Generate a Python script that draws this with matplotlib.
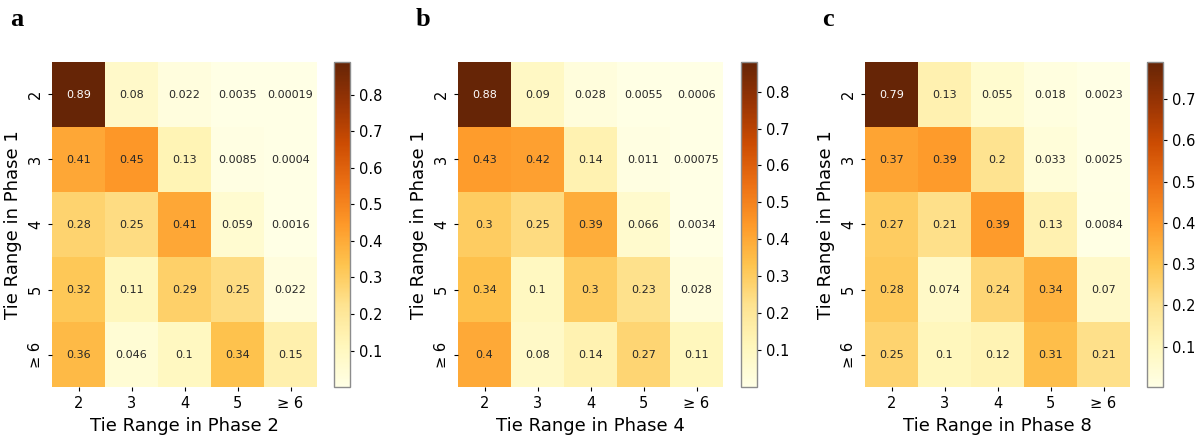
import numpy as np
import matplotlib
matplotlib.use("Agg")
import matplotlib.pyplot as plt
import seaborn as sns

labels = ["2", "3", "4", "5", "≥ 6"]

# transition fractions, rows = range in phase 1, cols = range in later phase
phase2 = [
    [0.89, 0.08, 0.022, 0.0035, 0.00019],
    [0.41, 0.45, 0.13, 0.0085, 0.0004],
    [0.28, 0.25, 0.41, 0.059, 0.0016],
    [0.32, 0.11, 0.29, 0.25, 0.022],
    [0.36, 0.046, 0.1, 0.34, 0.15],
]
phase4 = [
    [0.88, 0.09, 0.028, 0.0055, 0.0006],
    [0.43, 0.42, 0.14, 0.011, 0.00075],
    [0.3, 0.25, 0.39, 0.066, 0.0034],
    [0.34, 0.1, 0.3, 0.23, 0.028],
    [0.4, 0.08, 0.14, 0.27, 0.11],
]
phase8 = [
    [0.79, 0.13, 0.055, 0.018, 0.0023],
    [0.37, 0.39, 0.2, 0.033, 0.0025],
    [0.27, 0.21, 0.39, 0.13, 0.0084],
    [0.28, 0.074, 0.24, 0.34, 0.07],
    [0.25, 0.1, 0.12, 0.31, 0.21],
]

panels = [("a", "Tie Range in Phase 2", phase2),
          ("b", "Tie Range in Phase 4", phase4),
          ("c", "Tie Range in Phase 8", phase8)]

W, H = 1202, 436
fig = plt.figure(figsize=(W / 100, H / 100), dpi=100)

# pixel boxes: heatmap left, colorbar left, letter x
boxes = [(52, 334, 10), (458, 741, 416), (865, 1147, 822)]
top, bottom = 62, 387

for (letter, xlabel, data), (hx, cx, lx) in zip(panels, boxes):
    ax = fig.add_axes([hx / W, (H - bottom) / H, 265 / W, (bottom - top) / H])
    cax = fig.add_axes([cx / W, (H - bottom) / H, 16 / W, (bottom - top) / H])
    sns.heatmap(np.array(data), ax=ax, cbar_ax=cax, cmap="YlOrBr",
                annot=True, fmt=".2g", annot_kws={"size": 8},
                xticklabels=labels, yticklabels=labels)
    # keep the raw numbers as printed
    for t, v in zip(ax.texts, np.array(data).ravel()):
        t.set_text(f"{v:g}")
    ax.set_xlabel(xlabel, fontsize=13)
    ax.set_ylabel("Tie Range in Phase 1", fontsize=13)
    ax.tick_params(labelsize=10.5, length=3)
    plt.setp(ax.get_yticklabels(), rotation=90, va="center")
    plt.setp(ax.get_xticklabels(), rotation=0)
    cax.tick_params(labelsize=10.5, length=3)
    cbar = ax.collections[0].colorbar
    cbar.outline.set_linewidth(1)
    cbar.outline.set_edgecolor("0.55")
    fig.text(lx / W, 1 - 8 / H, letter, fontsize=19, fontweight="bold",
             family="Liberation Serif", va="top", ha="left")

fig.savefig("out.png", dpi=100)
